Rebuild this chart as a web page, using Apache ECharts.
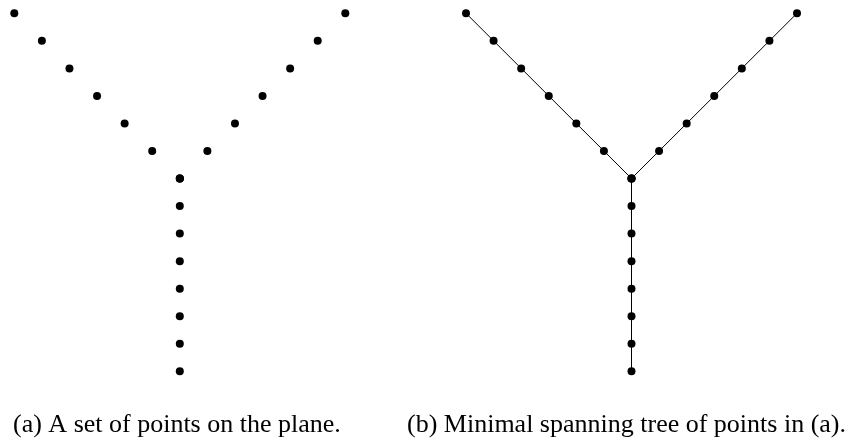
<!DOCTYPE html>
<html><head><meta charset="utf-8">
<script src="https://cdn.jsdelivr.net/npm/echarts@6/dist/echarts.min.js"></script>
<style>html,body{margin:0;padding:0;background:#fff}#c{width:859px;height:441px}</style>
</head><body><div id="c"></div>
<script>
// point set (unit grid coordinates), center at (0,0)
const leftBranchX = [0, -1, -2, -3, -4, -5, -6];
const leftBranchY = [0, 1, 2, 3, 4, 5, 6];
const rightBranchX = [0, 1, 2, 3, 4, 5, 6];
const rightBranchY = [0, 1, 2, 3, 4, 5, 6];
const stemX = [0, 0, 0, 0, 0, 0, 0, 0];
const stemY = [0, -1, -2, -3, -4, -5, -6, -7];
const captions = ['(a) A set of points on the plane.', '(b) Minimal spanning tree of points in (a).'];

const zip = (xs, ys) => xs.map((x, i) => [x, ys[i]]);
const branches = [zip(leftBranchX, leftBranchY), zip(rightBranchX, rightBranchY), zip(stemX, stemY)];

const chart = echarts.init(document.getElementById('c'), null, {renderer: 'canvas'});
const axX = i => ({gridIndex: i, type: 'value', min: -6, max: 6, show: false});
const axY = i => ({gridIndex: i, type: 'value', min: -7, max: 6, show: false});
const series = [];
branches.forEach(b => {
  series.push({type: 'scatter', xAxisIndex: 0, yAxisIndex: 0, data: b, symbolSize: 8,
    itemStyle: {color: '#000', opacity: 1}, silent: true});
  series.push({type: 'line', xAxisIndex: 1, yAxisIndex: 1, data: b, symbol: 'circle', symbolSize: 8,
    showSymbol: true, lineStyle: {color: '#000', width: 1}, itemStyle: {color: '#000', opacity: 1}, silent: true, animation: false});
});
const capStyle = {fontFamily: 'Liberation Serif', fontSize: 26, fontWeight: 'normal', color: '#000', lineHeight: 26};
chart.setOption({
  animation: false,
  backgroundColor: '#fff',
  grid: [
    {left: 14.3, top: 13.3, width: 331, height: 358},
    {left: 466, top: 13.3, width: 331, height: 358}
  ],
  xAxis: [axX(0), axX(1)],
  yAxis: [axY(0), axY(1)],
  title: [
    {text: captions[0], left: 13, top: 412, padding: 0, textStyle: capStyle},
    {text: captions[1], left: 407, top: 412, padding: 0, textStyle: capStyle}
  ],
  series: series
});
</script></body></html>
